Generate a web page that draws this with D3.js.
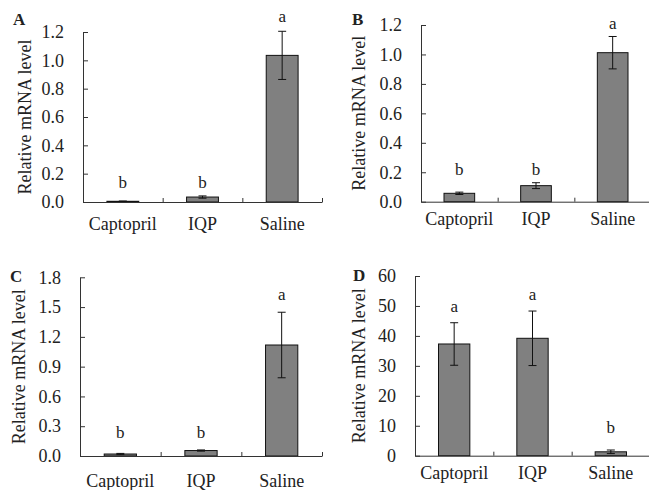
<!DOCTYPE html>
<html>
<head>
<meta charset="utf-8">
<script src="https://cdn.jsdelivr.net/npm/d3@7"></script>
<style>
  body { margin: 0; background: #fff; }
  svg { display: block; }
  svg text { font-family: "Liberation Serif", "DejaVu Serif", "Times New Roman", Times, serif; fill: #222; }
</style>
</head>
<body>
<div id="chart"></div>
<script>
var categories = ["Captopril", "IQP", "Saline"];

// mean and error
var meansA = [0.005, 0.035, 1.035];
var errA   = [0.002, 0.008, 0.17];
var meansB = [0.057, 0.109, 1.012];
var errB   = [0.008, 0.02, 0.11];
var meansC = [0.02, 0.055, 1.118];
var errC   = [0.006, 0.006, 0.33];
var meansD = [37.3, 39.2, 1.3];
var errD   = [7.1, 9.1, 0.6];

// significance letters and the level they sit at
var lettersA = ["b", "b", "a"];
var letterAtA = [0.10, 0.10, 1.27];
var lettersB = ["b", "b", "a"];
var letterAtB = [0.18, 0.18, 1.17];
var lettersC = ["b", "b", "a"];
var letterAtC = [0.18, 0.18, 1.57];
var lettersD = ["a", "a", "b"];
var letterAtD = [48.1, 52, 7.6];

var ticksAB = [0, 0.2, 0.4, 0.6, 0.8, 1.0, 1.2];
var ticksC = [0, 0.3, 0.6, 0.9, 1.2, 1.5, 1.8];
var ticksD = [0, 10, 20, 30, 40, 50, 60];

var serif = "'Liberation Serif', 'DejaVu Serif', 'Times New Roman', serif";

var panels = [
  { name: "A", means: meansA, err: errA, letters: lettersA, letterAt: letterAtA, ticks: ticksAB, fmt: ".1f",
    x0: 83, x1: 322, yTop: 32, yBot: 202, labelX: 13, labelY: 25, titleX: 31, catY: 230 },
  { name: "B", means: meansB, err: errB, letters: lettersB, letterAt: letterAtB, ticks: ticksAB, fmt: ".1f",
    x0: 421, x1: 651, yTop: 25, yBot: 201.7, labelX: 352, labelY: 25, titleX: 365, catY: 225 },
  { name: "C", means: meansC, err: errC, letters: lettersC, letterAt: letterAtC, ticks: ticksC, fmt: ".1f",
    x0: 80, x1: 322, yTop: 277.3, yBot: 456, labelX: 10, labelY: 282, titleX: 25, catY: 487 },
  { name: "D", means: meansD, err: errD, letters: lettersD, letterAt: letterAtD, ticks: ticksD, fmt: "d",
    x0: 415, x1: 650, yTop: 276, yBot: 455.7, labelX: 353, labelY: 281, titleX: 365, catY: 479 }
];

var svg = d3.select("#chart").append("svg")
  .attr("width", 649)
  .attr("height", 490);

svg.append("rect").attr("width", 649).attr("height", 490).attr("fill", "#fff");

panels.forEach(function(p) {
  var g = svg.append("g").attr("font-family", serif);

  var x = d3.scaleBand()
    .domain(categories)
    .range([p.x0, p.x1])
    .paddingInner(0.6)
    .paddingOuter(0.3);

  // boundaries between categories, for the little tick marks
  var xb = d3.scaleLinear().domain([0, categories.length]).range([p.x0, p.x1]);

  var y = d3.scaleLinear()
    .domain([0, d3.max(p.ticks)])
    .range([p.yBot, p.yTop]);

  var rows = categories.map(function(c, i) {
    return { cat: c, mean: p.means[i], err: p.err[i], letter: p.letters[i], at: p.letterAt[i] };
  });

  // bars
  g.selectAll("rect.bar")
    .data(rows)
    .enter()
    .append("rect")
    .attr("class", "bar")
    .attr("x", function(d) { return x(d.cat); })
    .attr("width", x.bandwidth())
    .attr("y", function(d) { return y(d.mean); })
    .attr("height", function(d) { return y(0) - y(d.mean); })
    .attr("fill", "#808080")
    .attr("stroke", "#111")
    .attr("stroke-width", 1);

  // error bars
  var eb = g.selectAll("g.err")
    .data(rows)
    .enter()
    .append("g")
    .attr("class", "err")
    .attr("stroke", "#111")
    .attr("stroke-width", 1);

  eb.append("line")
    .attr("x1", function(d) { return x(d.cat) + x.bandwidth() / 2; })
    .attr("x2", function(d) { return x(d.cat) + x.bandwidth() / 2; })
    .attr("y1", function(d) { return y(d.mean - d.err); })
    .attr("y2", function(d) { return y(d.mean + d.err); });

  [-1, 1].forEach(function(s) {
    eb.append("line")
      .attr("x1", function(d) { return x(d.cat) + x.bandwidth() / 2 - 4; })
      .attr("x2", function(d) { return x(d.cat) + x.bandwidth() / 2 + 4; })
      .attr("y1", function(d) { return y(d.mean + s * d.err); })
      .attr("y2", function(d) { return y(d.mean + s * d.err); });
  });

  // letters
  g.selectAll("text.letter")
    .data(rows)
    .enter()
    .append("text")
    .attr("class", "letter")
    .attr("x", function(d) { return x(d.cat) + x.bandwidth() / 2; })
    .attr("y", function(d) { return y(d.at); })
    .attr("text-anchor", "middle")
    .style("font-size", "17px")
    .text(function(d) { return d.letter; });

  // y axis, ticks pointing inward
  var yAxis = g.append("g")
    .attr("transform", "translate(" + p.x0 + ",0)")
    .call(d3.axisLeft(y)
      .tickValues(p.ticks)
      .tickFormat(d3.format(p.fmt))
      .tickSizeInner(-5)
      .tickSizeOuter(0)
      .tickPadding(19));
  yAxis.attr("font-family", serif);
  yAxis.selectAll("text").style("font-size", "18px").style("font-family", serif).attr("fill", "#222");
  yAxis.selectAll("line, path").attr("stroke", "#333");

  // x axis: baseline with ticks at category boundaries
  var xAxis = g.append("g")
    .attr("transform", "translate(0," + p.yBot + ")")
    .call(d3.axisBottom(xb)
      .tickValues(d3.range(1, categories.length + 1))
      .tickSizeInner(-4)
      .tickSizeOuter(0)
      .tickFormat(""));
  xAxis.selectAll("line, path").attr("stroke", "#333");

  // category labels
  g.selectAll("text.cat")
    .data(categories)
    .enter()
    .append("text")
    .attr("class", "cat")
    .attr("x", function(d) { return x(d) + x.bandwidth() / 2; })
    .attr("y", p.catY)
    .attr("text-anchor", "middle")
    .style("font-size", "18px")
    .text(function(d) { return d; });

  // y title
  g.append("text")
    .attr("transform", "translate(" + p.titleX + "," + ((p.yTop + p.yBot) / 2) + ") rotate(-90)")
    .attr("text-anchor", "middle")
    .style("font-size", "18px")
    .text("Relative mRNA level");

  // panel letter
  g.append("text")
    .attr("x", p.labelX)
    .attr("y", p.labelY)
    .style("font-size", "17px")
    .style("font-weight", "bold")
    .text(p.name);
});
</script>
</body>
</html>
